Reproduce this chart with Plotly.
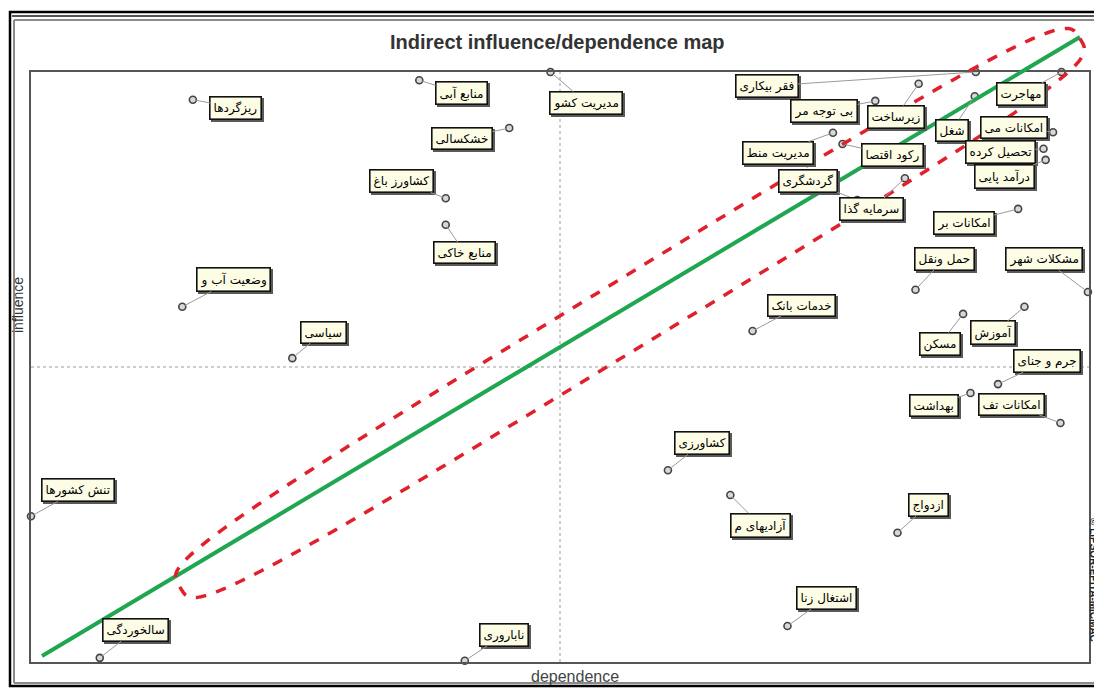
import math
import plotly.graph_objects as go

# ---------------- data ----------------
names = [
    "ریزگردها", "منابع آبی", "خشکسالی", "کشاورز باغ", "منابع خاکی", "وضعیت آب و",
    "سیاسی", "مدیریت کشو", "فقر بیکاری", "بی توجه مر", "زیرساخت", "مهاجرت",
    "شغل", "امکانات می", "تحصیل کرده", "درآمد پایی", "مدیریت منط", "رکود اقتصا",
    "گردشگری", "سرمایه گذا", "امکانات بر", "حمل ونقل", "مشکلات شهر", "خدمات بانک",
    "آموزش", "مسکن", "جرم و جنای", "بهداشت", "امکانات تف", "کشاورزی",
    "آزادیهای م", "ازدواج", "اشتغال زنا", "تنش کشورها", "سالخوردگی", "ناباروری",
]
dependence = [
    15.3, 36.7, 45.2, 39.2, 39.2, 14.3,
    24.7, 49.1, 89.3, 79.8, 83.9, 97.4,
    89.2, 96.6, 95.7, 95.9, 75.8, 76.7,
    78.1, 82.6, 93.3, 83.6, 99.9, 68.2,
    93.9, 88.1, 91.4, 88.8, 97.3, 60.2,
    66.1, 81.9, 71.5, 0.0, 6.5, 41.0,
]
influence = [
    95.3, 98.6, 90.5, 78.6, 74.1, 60.2,
    51.5, 100.0, 100.0, 95.1, 98.0, 100.0,
    95.9, 89.8, 87.0, 85.1, 89.7, 87.8,
    78.3, 82.0, 76.8, 63.1, 62.7, 56.1,
    60.2, 59.0, 47.1, 45.6, 40.5, 32.5,
    28.3, 21.9, 6.1, 24.7, 0.7, 0.2,
]

# label placement offsets (pixels, relative to each point)
label_dx = [43, 42, -47, -44, 19, 51, 31, 36, -209, -51, -23, -40,
            -23, -39, -43, -41, -55, 50, -49, -33, -54, 29, -44, 49,
            -31, -23, 49, -37, -49, 34, 30, 31, 39, 47, 36, 39]
label_dy = [8, 13, 10, -17, 28, -27, -26, 31, 14, 10, 33, 22,
            34, -5, 3, 17, 20, 11, -19, 31, 14, -31, -33, -26,
            26, 30, -23, 13, -19, -27, 30, -28, -28, -26, -28, -26]

# ---------------- layout helpers (reference pixel -> paper) ----------------
OFF = 8                      # page body margin of the browser
W, H = 1102 - OFF, 689 - OFF
L, R, T, B = 31, 1089, 72, 662   # plot area in reference pixels


def px(x):
    return (x - L) / (R - L)


def py(y):
    return (B - y) / (B - T)


fig = go.Figure()

fig.add_trace(go.Scatter(
    x=dependence, y=influence, mode="markers",
    marker=dict(symbol="circle", size=7, color="#d8d8d8",
                line=dict(color="#444444", width=1.6)),
    cliponaxis=False, hoverinfo="text", text=names, showlegend=False,
))

label_font = dict(family="DejaVu Sans", size=12, color="#000000")
shadows, labels = [], []
for n, xv, yv, dx, dy in zip(names, dependence, influence, label_dx, label_dy):
    shadows.append(dict(
        x=xv, y=yv, xref="x", yref="y", text=n,
        showarrow=True, ax=dx + 2, ay=dy + 2, arrowhead=0, arrowwidth=0.1,
        arrowcolor="rgba(0,0,0,0)",
        font=dict(family="DejaVu Sans", size=12, color="rgba(0,0,0,0)"),
        bgcolor="#5a5a5a", bordercolor="#5a5a5a", borderwidth=1.6, borderpad=3,
    ))
    labels.append(dict(
        x=xv, y=yv, xref="x", yref="y", text=n,
        showarrow=True, ax=dx, ay=dy, arrowhead=0, arrowwidth=1,
        arrowcolor="#9a9a9a", standoff=3,
        font=label_font,
        bgcolor="#fdfde6", bordercolor="#111111", borderwidth=1.6, borderpad=3,
    ))

texts = [
    dict(x=px(557), y=py(42), xref="paper", yref="paper", showarrow=False,
         xanchor="center", yanchor="middle",
         text="<b>Indirect influence/dependence map</b>",
         font=dict(family="Liberation Sans Narrow, Arial Narrow, Liberation Sans", size=20,
                   color="#333333")),
    dict(x=px(575), y=py(676), xref="paper", yref="paper", showarrow=False,
         xanchor="center", yanchor="middle",
         text="dependence",
         font=dict(family="Liberation Sans, Arial", size=16, color="#444444")),
    dict(x=px(18), y=py(305), xref="paper", yref="paper", showarrow=False,
         xanchor="center", yanchor="middle",
         text="influence", textangle=-90,
         font=dict(family="Liberation Sans, Arial", size=14, color="#333333")),
    dict(x=px(1094), y=py(580), xref="paper", yref="paper", showarrow=False,
         xanchor="center", yanchor="middle",
         text="<b>© LIPSOR-EPITA-MICMAC</b>", textangle=90,
         font=dict(family="Liberation Sans Narrow, Liberation Sans", size=10, color="#222222")),
]

shapes = []
# outer double frame
shapes.append(dict(type="rect", xref="paper", yref="paper",
                   x0=px(10), x1=px(1100), y0=py(686), y1=py(12),
                   line=dict(color="#000000", width=2.5)))
for x0, y0, x1, y1 in [(14, 20, 1099, 20), (14, 20, 14, 683), (14, 683, 1099, 683)]:
    shapes.append(dict(type="line", xref="paper", yref="paper",
                       x0=px(x0), x1=px(x1), y0=py(y0), y1=py(y1),
                       line=dict(color="#8a8a8a", width=2)))
shapes.append(dict(type="line", xref="paper", yref="paper",
                   x0=px(12), x1=px(1099), y0=py(16), y1=py(16),
                   line=dict(color="#555555", width=2)))

# centre dotted lines
shapes.append(dict(type="line", xref="x", yref="y", x0=50, x1=50, y0=0, y1=100,
                   line=dict(color="#9a9a9a", width=1, dash="dot"), layer="below"))
shapes.append(dict(type="line", xref="x", yref="y", x0=0, x1=100, y0=50, y1=50,
                   line=dict(color="#9a9a9a", width=1, dash="dot"), layer="below"))

# green diagonal
shapes.append(dict(type="line", xref="paper", yref="paper",
                   x0=px(42), y0=py(656), x1=px(1080), y1=py(37),
                   line=dict(color="#1fa650", width=4)))

# red dashed elongated ellipse (hand-drawn style decoration)
cx, cy = 630, 313
ux, uy = 451, -275
ln = math.hypot(ux, uy)
ux, uy = ux / ln, uy / ln
nx, ny = -uy, ux
a, b, e = 527, 34, 4.0
pts = []
for i in range(241):
    t = 2 * math.pi * i / 240
    c, s = math.cos(t), math.sin(t)
    u = a * math.copysign(abs(c) ** (2 / e), c)
    v = b * math.copysign(abs(s) ** (2 / e), s)
    X = cx + u * ux + v * nx
    Y = cy + u * uy + v * ny
    pts.append((px(X), py(Y)))
path = "M " + " L ".join(f"{p[0]:.5f},{p[1]:.5f}" for p in pts) + " Z"
shapes.append(dict(type="path", xref="paper", yref="paper", path=path,
                   line=dict(color="#e0202a", width=3.5, dash="dash")))

fig.update_layout(
    width=W, height=H,
    margin=dict(l=L - OFF, r=1102 - R, t=T - OFF, b=689 - B, pad=0),
    paper_bgcolor="white", plot_bgcolor="white",
    xaxis=dict(range=[0, 100], showgrid=False, zeroline=False, showticklabels=False,
               ticks="", showline=True, mirror=True, linecolor="#555555", linewidth=2,
               fixedrange=True),
    yaxis=dict(range=[0, 100], showgrid=False, zeroline=False, showticklabels=False,
               ticks="", showline=True, mirror=True, linecolor="#555555", linewidth=2,
               fixedrange=True),
    annotations=shadows + labels + texts, shapes=shapes, showlegend=False,
)

fig.write_html("out.html")
